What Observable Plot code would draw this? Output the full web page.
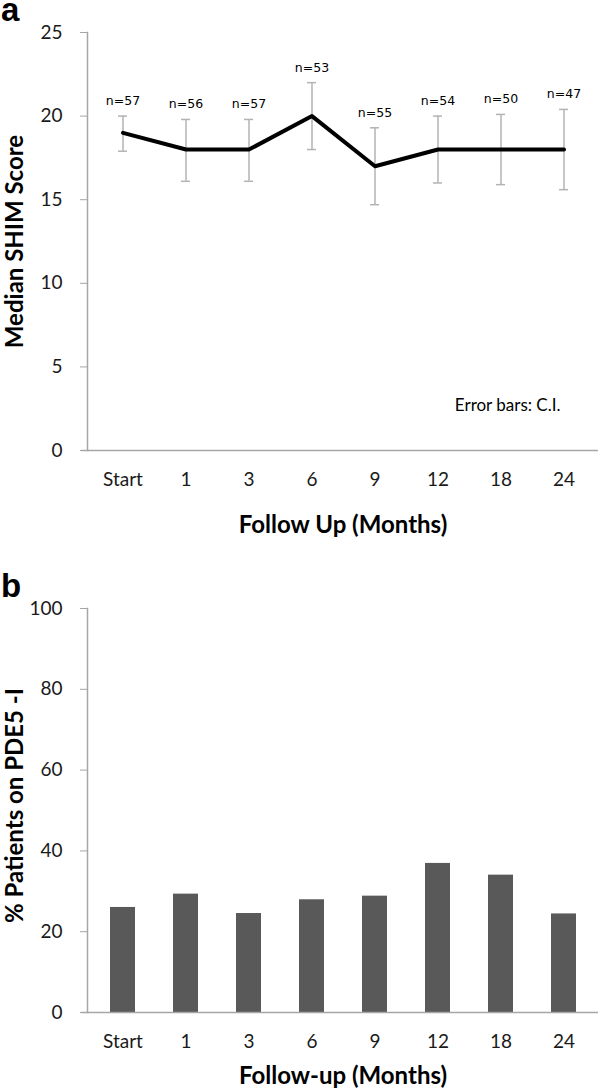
<!DOCTYPE html>
<html>
<head>
<meta charset="utf-8">
<script src="https://cdn.jsdelivr.net/npm/d3@7"></script>
<script src="https://cdn.jsdelivr.net/npm/@observablehq/plot@0.6"></script>
<style>
  html, body { margin: 0; padding: 0; background: #fff; }
  #wrap { position: relative; width: 600px; height: 1091px; overflow: hidden; }
  .panel { position: absolute; left: 0; }
  .tag { position: absolute; font-family: "Liberation Sans", Arial, sans-serif; font-weight: bold; font-size: 33px; color: #000; line-height: 1; z-index: 2; }
</style>
</head>
<body>
<div id="wrap">
  <div id="pa" class="panel" style="top:0;"></div>
  <div id="pb" class="panel" style="top:545px;"></div>
  <div class="tag" style="left:1px; top:-7px;">a</div>
  <div class="tag" style="left:1px; top:569px;">b</div>
</div>
<script>
// ---- data ----
const months = ["Start", "1", "3", "6", "9", "12", "18", "24"];
const medianShim = [19, 18, 18, 20, 17, 18, 18, 18];
const ciLow = [17.9, 16.1, 16.1, 18.0, 14.7, 16.0, 15.9, 15.6];
const ciHigh = [20.0, 19.8, 19.8, 22.0, 19.3, 20.0, 20.1, 20.4];
const nPatients = [57, 56, 57, 53, 55, 54, 50, 47];
const pctOnPDE5 = [26.0, 29.3, 24.5, 27.9, 28.8, 36.9, 34.0, 24.4];
const shimTicks = [0, 5, 10, 15, 20, 25];
const pctTicks = [0, 20, 40, 60, 80, 100];

const shimData = months.map((m, i) => ({month: m, median: medianShim[i], lo: ciLow[i], hi: ciHigh[i], n: "n=" + nPatients[i]}));
const pdeData = months.map((m, i) => ({month: m, pct: pctOnPDE5[i]}));

const axisGray = "#a6a6a6";
const barGray = "#b3b3b3";
const tickFont = {fontFamily: "Lato, sans-serif", fontSize: "19px"};
const titleStyle = {fontWeight: "bold", fill: "#000", textAnchor: "middle", lineAnchor: "middle", fontSize: 24};

// ---- panel a ----
const plotA = Plot.plot({
  width: 600, height: 545,
  marginLeft: 87, marginRight: 2, marginTop: 32, marginBottom: 95,
  style: {...tickFont, color: "#1a1a1a", background: "transparent", overflow: "visible"},
  x: {type: "band", domain: months, padding: 0},
  y: {domain: [0, 25]},
  marks: [
    Plot.frame({anchor: "left", stroke: axisGray, strokeWidth: 1.5}),
    Plot.ruleY([0], {stroke: axisGray, strokeWidth: 1.5, insetLeft: -6}),
    Plot.axisY({ticks: shimTicks, tickSize: 7, tickPadding: 18, stroke: axisGray, label: null}),
    Plot.axisX({tickSize: 0, tickPadding: 22, label: null}),
    Plot.ruleX(shimData, {x: "month", y1: "lo", y2: "hi", stroke: barGray, strokeWidth: 1.5}),
    Plot.tickY(shimData, {x: "month", y: "lo", stroke: barGray, strokeWidth: 1.5, insetLeft: 27, insetRight: 27}),
    Plot.tickY(shimData, {x: "month", y: "hi", stroke: barGray, strokeWidth: 1.5, insetLeft: 27, insetRight: 27}),
    Plot.line(shimData, {x: "month", y: "median", stroke: "#000", strokeWidth: 4}),
    Plot.text(shimData, {x: "month", y: "hi", text: "n", dy: -15, fontFamily: "DejaVu Sans, sans-serif", fontSize: 12.5, fill: "#000"}),
    Plot.text(["Error bars: C.I."], {frameAnchor: "bottom-right", textAnchor: "end", lineAnchor: "middle", dx: -38, dy: -45, fontSize: 17, fill: "#000"}),
    Plot.text(["Median SHIM Score"], {...titleStyle, frameAnchor: "left", rotate: -90, dx: -72}),
    Plot.text(["Follow Up (Months)"], {...titleStyle, frameAnchor: "bottom", dy: 75})
  ]
});
document.getElementById("pa").appendChild(plotA);

// ---- panel b ----
const plotB = Plot.plot({
  width: 600, height: 546,
  marginLeft: 87, marginRight: 2, marginTop: 63, marginBottom: 79,
  style: {...tickFont, color: "#1a1a1a", background: "transparent", overflow: "visible"},
  x: {type: "band", domain: months, paddingInner: 0.61, paddingOuter: 0.305},
  y: {domain: [0, 100]},
  marks: [
    Plot.barY(pdeData, {x: "month", y: "pct", fill: "#595959"}),
    Plot.frame({anchor: "left", stroke: axisGray, strokeWidth: 1.5}),
    Plot.ruleY([0], {stroke: axisGray, strokeWidth: 1.5, insetLeft: -6}),
    Plot.axisY({ticks: pctTicks, tickSize: 7, tickPadding: 18, stroke: axisGray, label: null}),
    Plot.axisX({tickSize: 0, tickPadding: 22, label: null}),
    Plot.text(["% Patients on PDE5 -I"], {...titleStyle, frameAnchor: "left", rotate: -90, dx: -72, dy: -5}),
    Plot.text(["Follow-up (Months)"], {...titleStyle, frameAnchor: "bottom", dy: 64})
  ]
});
document.getElementById("pb").appendChild(plotB);
</script>
</body>
</html>
